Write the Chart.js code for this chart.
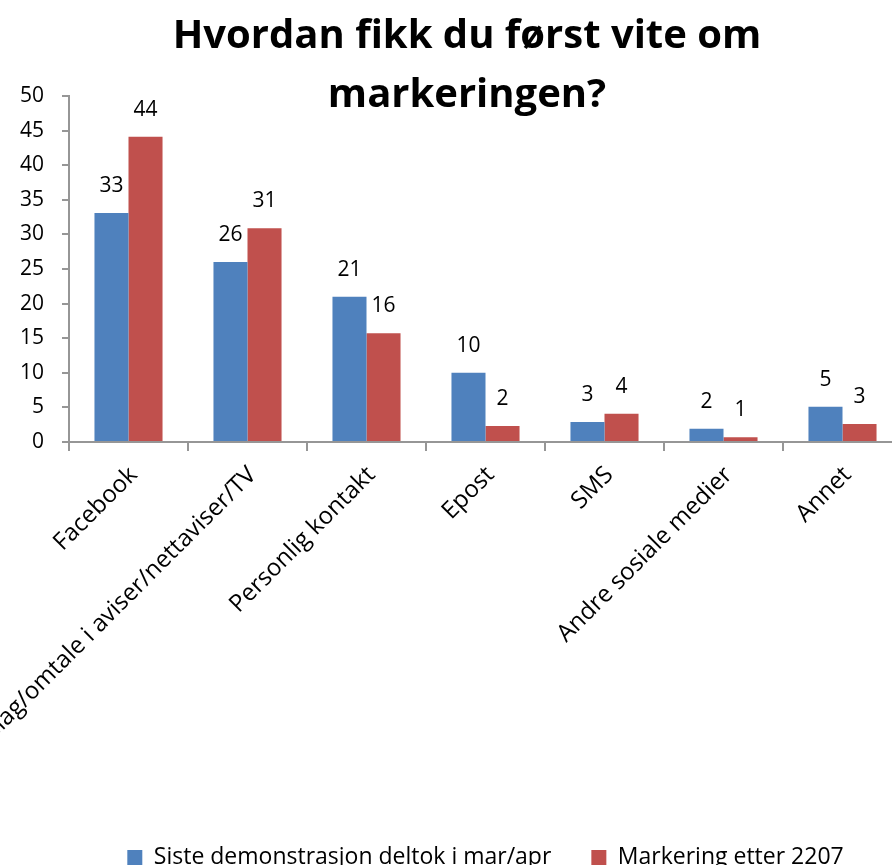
<!DOCTYPE html>
<html>
<head>
<meta charset="utf-8">
<script src="https://cdn.jsdelivr.net/npm/chart.js@4"></script>
<style>
  html, body { margin: 0; padding: 0; background: #fff; overflow: hidden; }
</style>
</head>
<body>
<canvas id="chart" width="934" height="879"></canvas>
<script>
const categories = [
  'Facebook',
  'Oppslag/omtale i aviser/nettaviser/TV',
  'Personlig kontakt',
  'Epost',
  'SMS',
  'Andre sosiale medier',
  'Annet',
];
const seriesNames = ['Siste demonstrasjon deltok i mar/apr', 'Markering etter 2207'];
const lastDemo = [33.1, 26.0, 21.0, 10.0, 2.9, 1.9, 5.1];
const afterJuly = [44.1, 30.9, 15.7, 2.3, 4.1, 0.7, 2.6];
const yTicks = { min: 0, max: 50, step: 5 };

const FONT = 'Open Sans';

// value labels above each bar (rounded, like the original)
const barLabels = {
  id: 'barLabels',
  afterDatasetsDraw(chart) {
    const ctx = chart.ctx;
    ctx.save();
    ctx.font = '21px "' + FONT + '"';
    ctx.fillStyle = '#000';
    ctx.textAlign = 'center';
    ctx.textBaseline = 'middle';
    chart.data.datasets.forEach((ds, i) => {
      chart.getDatasetMeta(i).data.forEach((bar, j) => {
        ctx.fillText(String(Math.round(ds.data[j])), bar.x, bar.y - 27);
      });
    });
    ctx.restore();
  }
};

const axisColor = '#969696';

new Chart(document.getElementById('chart'), {
  type: 'bar',
  data: {
    labels: categories,
    datasets: [
      { label: seriesNames[0], data: lastDemo, backgroundColor: '#4F81BD' },
      { label: seriesNames[1], data: afterJuly, backgroundColor: '#C0504D' },
    ],
  },
  plugins: [barLabels],
  options: {
    responsive: false,
    animation: false,
    layout: { padding: 0 },
    datasets: {
      bar: { categoryPercentage: 0.572, barPercentage: 1, borderWidth: 0 },
    },
    scales: {
      x: {
        grid: { drawOnChartArea: false, offset: true, tickLength: 9, color: axisColor, lineWidth: 2 },
        border: { color: axisColor, width: 2 },
        ticks: {
          color: '#000',
          font: { family: FONT, size: 24 },
          minRotation: 45,
          maxRotation: 45,
          padding: 10,
          labelOffset: 5,
          autoSkip: false,
        },
        afterFit(scale) { scale.height = 364; },
      },
      y: {
        min: yTicks.min,
        max: yTicks.max,
        grid: { drawOnChartArea: false, tickLength: 7, color: axisColor, lineWidth: 2 },
        border: { color: axisColor, width: 2 },
        ticks: {
          stepSize: yTicks.step,
          color: '#000',
          font: { family: FONT, size: 21 },
          padding: 18,
        },
        afterFit(scale) { scale.width = 69; },
      },
      // empty strip on the right, the plot runs past the picture's edge
      yRight: {
        position: 'right',
        grid: { display: false },
        border: { display: false },
        ticks: { display: false },
        afterFit(scale) { scale.width = 32; },
      },
    },
    plugins: {
      title: {
        display: true,
        text: ['Hvordan fikk du først vite om', 'markeringen?'],
        color: '#000',
        font: { family: FONT, size: 40, weight: 'bold', lineHeight: '59px' },
        padding: { top: 7, bottom: -29 },
      },
      legend: {
        position: 'bottom',
        fullSize: false,
        labels: {
          color: '#000',
          font: { family: FONT, size: 23 },
          boxWidth: 15,
          boxHeight: 15,
          padding: 40,
        },
      },
      tooltip: { enabled: false },
    },
  },
});
</script>
</body>
</html>
